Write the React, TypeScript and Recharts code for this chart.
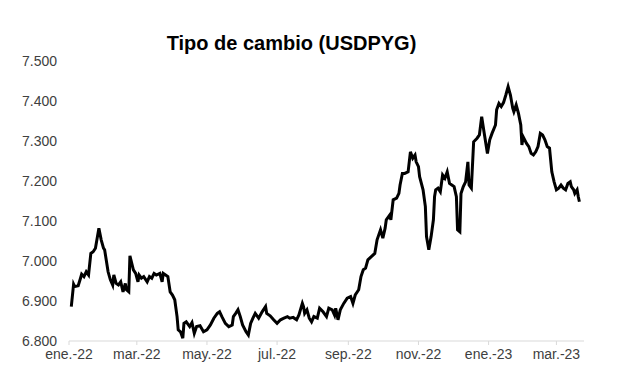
import React from "react";
import { LineChart, Line, XAxis, YAxis } from "recharts";

// Days elapsed since 2022-01-01 for each observation
const dayOffsets = [
  2, 4, 5, 8, 10, 11, 13, 15, 17, 19, 21, 23, 26, 28, 30, 31, 34, 36, 38, 39,
  41, 43, 45, 47, 49, 50, 52, 53, 56, 58, 60, 61, 63, 65, 68, 70, 72, 74, 76, 79,
  81, 82, 84, 86, 88, 90, 92, 94, 95, 97, 99, 100, 102, 105, 107, 109, 111, 114, 117, 120,
  123, 126, 129, 131, 133, 136, 139, 142, 143, 145, 147, 149, 151, 154, 156, 158, 160, 162, 165, 168,
  171, 172, 175, 178, 181, 184, 187, 190, 192, 195, 198, 200, 203, 204, 205, 207, 209, 211, 213, 216,
  218, 221, 224, 226, 229, 231, 232, 234, 236, 239, 242, 245, 247, 249, 252, 254, 256, 258, 260, 263,
  266, 268, 271, 273, 275, 276, 279, 280, 282, 285, 287, 288, 290, 292, 295, 297, 299, 301, 302, 304,
  305, 308, 310, 311, 313, 315, 317, 318, 319, 321, 323, 325, 327, 329, 331, 333, 335, 337, 338, 340,
  341, 343, 345, 347, 348, 350, 352, 355, 357, 359, 361, 364, 366, 368, 371, 372, 374, 376, 378, 380,
  382, 384, 386, 387, 389, 391, 393, 394, 395, 398, 400, 402, 404, 406, 408, 410, 412, 414, 416, 418,
  420, 422, 424, 426, 428, 430, 432, 434, 436, 437, 439, 440, 442, 443, 444,
];

// USD/PYG exchange rate (thousands of guaraníes per dollar)
const rates = [
  6.886, 6.942, 6.936, 6.938, 6.957, 6.967, 6.961, 6.973, 6.965, 7.019, 7.023, 7.032, 7.082, 7.053, 7.032, 7.028, 6.973, 6.953, 6.94, 6.965,
  6.944, 6.94, 6.948, 6.923, 6.944, 6.928, 6.923, 7.013, 6.978, 6.969, 6.948, 6.965, 6.957, 6.961, 6.948, 6.961, 6.957, 6.969, 6.965, 6.969,
  6.948, 6.969, 6.965, 6.961, 6.923, 6.915, 6.903, 6.861, 6.828, 6.823, 6.807, 6.844, 6.848, 6.836, 6.846, 6.819, 6.836, 6.838, 6.823, 6.828,
  6.84, 6.857, 6.869, 6.873, 6.861, 6.844, 6.836, 6.84, 6.861, 6.869, 6.878, 6.861, 6.84, 6.823, 6.815, 6.844, 6.857, 6.869, 6.857, 6.873,
  6.886, 6.869, 6.863, 6.853, 6.844, 6.853, 6.857, 6.861, 6.857, 6.859, 6.853, 6.865, 6.894, 6.886, 6.869, 6.878, 6.857, 6.848, 6.861, 6.857,
  6.882, 6.873, 6.861, 6.882, 6.878, 6.865, 6.882, 6.853, 6.878, 6.894, 6.907, 6.911, 6.894, 6.915, 6.928, 6.961, 6.978, 6.982, 7.003, 7.011,
  7.019, 7.053, 7.078, 7.057, 7.082, 7.103, 7.115, 7.103, 7.153, 7.157, 7.169, 7.19, 7.219, 7.219, 7.223, 7.273, 7.257, 7.265, 7.248, 7.236,
  7.211, 7.178, 7.136, 7.061, 7.028, 7.061, 7.103, 7.161, 7.178, 7.182, 7.173, 7.215, 7.207, 7.223, 7.194, 7.19, 7.186, 7.161, 7.078, 7.073,
  7.169, 7.186, 7.198, 7.248, 7.19, 7.182, 7.298, 7.307, 7.315, 7.361, 7.323, 7.269, 7.303, 7.319, 7.34, 7.378, 7.394, 7.386, 7.396, 7.415,
  7.436, 7.415, 7.382, 7.373, 7.39, 7.369, 7.34, 7.29, 7.311, 7.294, 7.286, 7.269, 7.265, 7.273, 7.286, 7.319, 7.315, 7.303, 7.286, 7.282,
  7.223, 7.198, 7.178, 7.182, 7.19, 7.182, 7.178, 7.194, 7.198, 7.186, 7.178, 7.169, 7.178, 7.161, 7.148,
];

const tickDays = [0, 59, 120, 181, 243, 304, 365, 424];
const tickLabels = ["ene.-22", "mar.-22", "may.-22", "jul.-22", "sep.-22", "nov.-22", "ene.-23", "mar.-23"];
const yTicks = [6.8, 6.9, 7.0, 7.1, 7.2, 7.3, 7.4, 7.5];
const title = "Tipo de cambio (USDPYG)";

const data = dayOffsets.map((d, i) => ({ day: d, rate: rates[i] }));

const fontFamily = "'Liberation Sans', Arial, sans-serif";

export default function App() {
  return (
    <div style={{ position: "absolute", left: 0, top: 0, width: 617, height: 387, background: "#fff" }}>
      <div
        style={{
          position: "absolute",
          left: 0,
          top: 33,
          width: 583,
          textAlign: "center",
          fontFamily,
          fontWeight: "bold",
          fontSize: 20,
          lineHeight: "20px",
          color: "#000",
        }}
      >
        {title}
      </div>
      <LineChart
        width={617}
        height={387}
        data={data}
        margin={{ top: 61, right: 33, bottom: 16, left: 0 }}
      >
        <XAxis
          dataKey="day"
          type="number"
          domain={[0, 448]}
          ticks={tickDays}
          interval={0}
          tickFormatter={(v: number) => tickLabels[tickDays.indexOf(v)] ?? ""}
          axisLine={{ stroke: "#d9d9d9", strokeWidth: 1 }}
          tickLine={{ stroke: "#d9d9d9", strokeWidth: 1 }}
          tickSize={4}
          tickMargin={4}
          height={30}
          tick={{ fill: "#404040", fontSize: 14, fontFamily }}
        />
        <YAxis
          type="number"
          domain={[6.8, 7.5]}
          ticks={yTicks}
          interval={0}
          tickFormatter={(v: number) => v.toFixed(3)}
          axisLine={false}
          tickLine={false}
          tickSize={0}
          tickMargin={12}
          width={69}
          tick={{ fill: "#404040", fontSize: 14, fontFamily }}
        />
        <Line
          type="linear"
          dataKey="rate"
          stroke="#000"
          strokeWidth={3}
          dot={false}
          activeDot={false}
          isAnimationActive={false}
        />
      </LineChart>
    </div>
  );
}
